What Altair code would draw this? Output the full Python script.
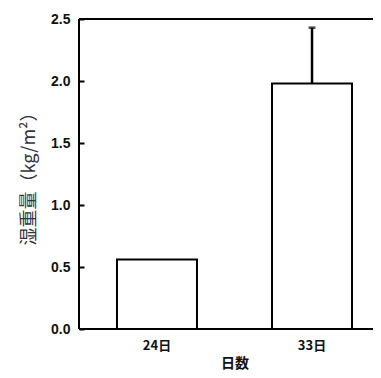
import altair as alt
import pandas as pd

days = ["24日", "33日"]
values = [0.56, 1.98]
upper = [None, 2.43]
y_ticks = [0.0, 0.5, 1.0, 1.5, 2.0, 2.5]

df = pd.DataFrame({"day": days, "value": values, "upper": upper})

LATIN = "Liberation Sans"
CJK = "Noto Sans CJK JP"

x_scale = alt.Scale(domain=days, range=[0, 311], paddingInner=0.484, paddingOuter=0.245)
y_scale = alt.Scale(domain=[0, 2.5], nice=False, zero=True)

x_axis = alt.Axis(
    title="日数", titleFont=CJK, titleFontSize=14, titleFontWeight="bold", titleColor="#111",
    titleX=155.5, titlePadding=4,
    labelFont=CJK, labelFontSize=13, labelFontWeight="bold", labelColor="#111",
    labelPadding=10, labelAngle=0,
    domain=False, ticks=False, grid=False,
)
y_axis = alt.Axis(
    values=y_ticks, format=".1f",
    title="湿重量（kg/m²）", titleFont=CJK, titleFontSize=18, titleFontWeight="normal",
    titleColor="#333340", titlePadding=12,
    labelFont=LATIN, labelFontSize=14, labelFontWeight="bold", labelColor="#111",
    labelPadding=9, domain=False, offset=-5, tickSize=5, tickWidth=2, tickColor="black",
    grid=False,
)

base = alt.Chart(df)

bars = base.mark_bar(fill="white", stroke="black", strokeWidth=2).encode(
    x=alt.X("day:N", scale=x_scale, axis=x_axis, sort=days),
    y=alt.Y("value:Q", scale=y_scale, axis=y_axis),
)

err = base.transform_filter("datum.upper != null").mark_rule(color="black", strokeWidth=2.5).encode(
    x=alt.X("day:N", scale=x_scale, sort=days),
    y=alt.Y("value:Q", scale=y_scale),
    y2="upper:Q",
)

cap = base.transform_filter("datum.upper != null").mark_tick(color="black", size=7, thickness=2.5).encode(
    x=alt.X("day:N", scale=x_scale, sort=days),
    y=alt.Y("upper:Q", scale=y_scale),
)

frame_df = pd.DataFrame({"lo": [0.0], "hi": [2.5]})
frame = alt.Chart(frame_df)
left = frame.mark_rule(color="black", strokeWidth=2).encode(
    x=alt.value(0), y=alt.Y("lo:Q", scale=y_scale), y2="hi:Q"
)
top = frame.mark_rule(color="black", strokeWidth=2).encode(y=alt.Y("hi:Q", scale=y_scale))
bottom = frame.mark_rule(color="black", strokeWidth=2).encode(y=alt.Y("lo:Q", scale=y_scale))

chart = alt.layer(bars, err, cap, left, top, bottom).properties(
    width=294, height=310,
    autosize=alt.AutoSizeParams(type="none"),
    padding={"left": 71, "top": 11, "right": 0, "bottom": 41},
    background="white",
).configure_view(stroke=None)

chart.save("out.html", embed_options={"renderer": "svg", "actions": False})
